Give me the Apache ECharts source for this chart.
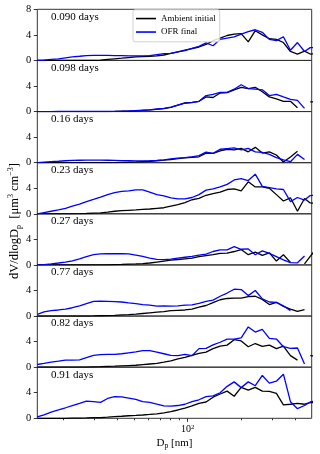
<!DOCTYPE html>
<html>
<head>
<meta charset="utf-8">
<script src="https://cdn.jsdelivr.net/npm/echarts@6/dist/echarts.min.js"></script>
<style>
html, body { margin: 0; padding: 0; background: #fff; }
#main { width: 320px; height: 454px; }
</style>
</head>
<body>
<div id="main"></div>
<script>
// particle mobility diameter bins, nm
const diameters = [14.3, 15.6, 17.1, 18.8, 20.6, 22.5, 24.7, 27.0, 29.6, 32.4,
	35.5, 38.9, 42.6, 46.6, 51.1, 55.9, 61.2, 67.1, 73.5, 80.4,
	88.1, 96.5, 105.7, 115.7, 126.8, 138.8, 152.1, 166.5, 182.4, 199.7,
	218.8, 239.6, 262.4, 287.4, 314.8, 344.7, 377.6, 413.5, 452.9, 487.6, 534];

const panelLabels = ['0.090 days', '0.098 days', '0.16 days', '0.23 days', '0.27 days', '0.77 days', '0.82 days', '0.91 days'];

// dV/dlogDp, um3 cm-3, one array per panel (ambient initial / OFR final)
const ambient1 = [0, 0, 0, 0, 0, 0, 0, 0, 0.02, 0.05,
	0.15, 0.25, 0.35, 0.45, 0.55, 0.6, 0.65, 0.7, 0.85, 1.1,
	1.35, 1.6, 1.85, 2.1, 2.5, 3.1, 3.5, 3.9, 4.1, 4.2,
	2.9, 4.65, 4.0, 3.4, 3.3, 2.8, 1.4, 1.0, 1.45, 1.0, 1.1];
const ofr1 = [0, 0.05, 0.15, 0.25, 0.4, 0.55, 0.65, 0.75, 0.8, 0.8,
	0.8, 0.75, 0.75, 0.7, 0.7, 0.7, 0.75, 0.9, 1.05, 1.1,
	1.35, 1.55, 1.9, 2.2, 2.75, 2.3, 3.3, 3.5, 3.7, 4.1,
	4.5, 4.8, 4.4, 3.3, 3.1, 3.7, 1.6, 2.8, 1.4, 2.0, 2.0];

const ambient2 = [0, 0, 0, 0, 0, 0, 0, 0, 0, 0,
	0, 0.02, 0.05, 0.08, 0.12, 0.18, 0.25, 0.35, 0.45, 0.65,
	1.0, 1.35, 1.45, 1.6, 2.3, 2.2, 2.9, 2.95, 3.4, 3.8,
	3.6, 3.8, 3.1, 2.3, 2.0, 1.6, 1.6, 0.6, null, 1.5, 1.5];
const ofr2 = [0, 0, 0, 0.01, 0.02, 0.02, 0.03, 0.03, 0.03, 0.03,
	0.03, 0.04, 0.06, 0.1, 0.15, 0.2, 0.25, 0.4, 0.5, 0.7,
	1.0, 1.3, 1.4, 1.6, 2.5, 2.7, 3.0, 3.0, 3.5, 4.2,
	3.6, 3.5, 3.4, 2.5, 2.7, 2.3, 1.9, 1.75, 0.5, null, null];

const ambient3 = [0, 0, 0, 0, 0, 0, 0, 0, 0, 0,
	0, 0.02, 0.05, 0.08, 0.12, 0.17, 0.22, 0.3, 0.4, 0.5,
	0.62, 0.75, 0.85, 0.92, 1.5, 1.45, 1.85, 2.1, 2.0, 2.25,
	1.7, 2.4, 1.5, 1.7, 1.2, 0.1, 0.9, 1.8, null, null, null];
const ofr3 = [0, 0.08, 0.15, 0.22, 0.3, 0.35, 0.38, 0.4, 0.4, 0.4,
	0.38, 0.35, 0.32, 0.3, 0.27, 0.27, 0.3, 0.35, 0.45, 0.6,
	0.72, 0.78, 0.9, 1.1, 1.65, 1.45, 2.1, 2.2, 2.3, 2.0,
	2.25, 1.7, 1.6, 1.3, 0.8, 0.45, 0.15, 1.3, 0.5, null, null];

const ambient4 = [0, 0, 0, 0, 0, 0, 0.02, 0.05, 0.1, 0.15,
	0.25, 0.4, 0.5, 0.55, 0.6, 0.68, 0.75, 0.85, 0.95, 1.2,
	1.45, 1.75, 2.2, 2.4, 2.9, 3.15, 3.4, 3.8, 3.9, 3.6,
	5.0, 4.2, 4.2, 4.0, 3.0, 2.0, 2.5, 0.4, 2.4, 1.7, 1.6];
const ofr4 = [0, 0.2, 0.4, 0.6, 0.85, 1.2, 1.5, 1.9, 2.25, 2.6,
	3.0, 3.3, 3.5, 3.6, 3.75, 3.75, 3.4, 3.0, 2.8, 2.5,
	2.35, 2.35, 2.55, 3.0, 3.7, 3.9, 4.2, 4.6, 5.3, 5.5,
	5.2, 6.2, 4.3, 4.1, 3.9, 3.8, 1.9, 2.55, 2.15, 2.85, 2.9];

const ambient5 = [0, 0, 0, 0, 0, 0, 0, 0, 0, 0,
	0.02, 0.05, 0.08, 0.12, 0.15, 0.2, 0.3, 0.45, 0.6, 0.75,
	0.85, 0.95, 1.05, 1.3, 1.45, 1.6, 1.8, 1.85, 2.1, 2.4,
	1.6, 2.0, 1.5, 1.9, 0.6, 1.6, 0.4, null, 0.15, 1.35, 2.7];
const ofr5 = [0, 0.05, 0.15, 0.3, 0.45, 0.65, 0.95, 1.3, 1.6, 1.72,
	1.75, 1.75, 1.75, 1.72, 1.55, 1.35, 1.05, 0.88, 0.82, 0.9,
	1.05, 1.2, 1.35, 1.55, 1.7, 2.1, 2.35, 2.35, 2.85, 2.45,
	2.5, 1.6, 2.2, 1.8, 1.3, 0.8, 0.35, 0.33, 1.4, null, null];

const ambient6 = [0, 0, 0, 0, 0, 0, 0, 0, 0.02, 0.05,
	0.08, 0.12, 0.17, 0.22, 0.3, 0.4, 0.5, 0.6, 0.7, 0.85,
	0.9, 0.95, 1.1, 1.4, 1.65, 2.1, 2.55, 2.75, 2.8, 2.8,
	3.05, 3.1, 2.6, 1.8, 2.15, 1.5, 1.1, 0.72, 1.0, null, null];
const ofr6 = [0.25, 0.65, 0.85, 0.95, 1.1, 1.3, 1.6, 1.95, 2.3, 2.35,
	2.3, 2.25, 2.2, 2.05, 1.95, 1.8, 1.7, 1.55, 1.6, 1.55,
	1.6, 1.7, 1.75, 2.0, 2.3, 2.5, 3.1, 3.6, 4.2, 4.15,
	3.2, 4.0, 2.7, 2.2, 2.15, 1.6, 0.85, null, null, null, null];

const ambient7 = [0, 0, 0, 0, 0, 0, 0, 0.02, 0.05, 0.08,
	0.12, 0.15, 0.2, 0.25, 0.3, 0.4, 0.5, 0.6, 0.8, 1.0,
	1.3, 1.55, 1.85, 2.15, 2.35, 2.9, 3.3, 3.45, 4.3, 4.1,
	3.2, 3.7, 3.25, 3.45, 2.9, 3.3, 1.8, 1.1, null, 1.8, 1.75];
const ofr7 = [0.42, 0.6, 0.8, 0.95, 1.1, 1.1, 1.15, 1.5, 1.85, 1.95,
	2.0, 2.0, 2.1, 2.25, 2.4, 2.6, 2.6, 2.35, 2.1, 1.85,
	1.8, 2.0, 1.8, 2.9, 2.95, 3.5, 3.9, 4.4, 4.4, 4.6,
	6.3, 5.5, 5.9, 4.5, 4.4, 3.2, 2.95, 3.0, 0.5, null, null];

const ambient8 = [0, 0, 0, 0, 0, 0.02, 0.04, 0.06, 0.1, 0.12,
	0.18, 0.25, 0.32, 0.4, 0.45, 0.52, 0.6, 0.7, 0.85, 1.05,
	1.3, 1.6, 1.95, 2.35, 2.55, 3.3, 3.8, 4.25, 3.45, 4.85,
	4.4, 4.85, 4.25, 4.2, 3.9, 2.1, 2.2, 2.35, 2.2, 2.45, 2.5];
const ofr8 = [0.22, 0.55, 0.95, 1.3, 1.65, 2.0, 2.35, 2.7, 2.6, 2.5,
	3.1, 3.4, 3.35, 3.15, 2.95, 2.6, 2.5, 2.2, 1.95, 1.9,
	2.0, 2.2, 2.6, 2.9, 3.4, 3.5, 4.0, 5.0, 5.7, 4.8,
	5.7, 5.1, 6.7, 5.5, 5.8, 6.9, 2.6, 1.5, 2.0, 2.55, 2.8];

const ambientSets = [ambient1, ambient2, ambient3, ambient4, ambient5, ambient6, ambient7, ambient8];
const ofrSets = [ofr1, ofr2, ofr3, ofr4, ofr5, ofr6, ofr7, ofr8];

// axis ticks
const xMinD = 14.3;
const xMaxD = 497;
const minorTickDiameters = [20, 30, 40, 50, 60, 70, 80, 90, 200, 300, 400];
const majorTickDiameters = [100];
const yMin = 0;
const yMax = 8;
const yInterval = 4;

const FONT = 'Liberation Serif';
const gridLeft = 37.3;
const gridRight = 8.3;
const gridTop = 9.3;
const panelH = 51.125;

const myChart = echarts.init(document.getElementById('main'));

const logs = diameters.map(d => Math.log10(d));
const grids = [], xAxes = [], yAxes = [], series = [], graphics = [];

for (let i = 0; i < 8; i++) {
	const top = gridTop + i * panelH;
	grids.push({
		left: gridLeft, right: gridRight, top: top, height: panelH,
		show: true, borderColor: '#333', borderWidth: 1, backgroundColor: 'transparent'
	});
	const last = i === 7;
	xAxes.push({
		type: 'value', gridIndex: i, position: 'bottom',
		min: Math.log10(xMinD), max: Math.log10(xMaxD),
		axisLine: { show: false },
		splitLine: { show: false },
		axisTick: last ? {
			show: true, length: 2, inside: false,
			customValues: minorTickDiameters.map(d => Math.log10(d)),
			lineStyle: { color: '#333', width: 1 }
		} : { show: false },
		axisLabel: { show: false },
		name: last ? 'D{sub|p} [nm]' : '',
		nameLocation: 'middle',
		nameGap: 18,
		nameTextStyle: {
			fontFamily: FONT, fontSize: 11, color: '#000',
			rich: { sub: { fontFamily: FONT, fontSize: 7.5, color: '#000', verticalAlign: 'bottom', padding: [6, 0, 0, 0] } }
		}
	});
	yAxes.push({
		type: 'value', gridIndex: i,
		min: yMin, max: yMax, interval: yInterval,
		axisLine: { show: false },
		splitLine: { show: false },
		axisTick: { show: true, length: 3.5, lineStyle: { color: '#333', width: 1 } },
		axisLabel: {
			showMaxLabel: i === 0,
			margin: 6,
			fontFamily: FONT, fontSize: 10.5, color: '#000'
		}
	});
	series.push({
		name: 'Ambient initial', type: 'line', xAxisIndex: i, yAxisIndex: i,
		data: logs.map((x, k) => [x, ambientSets[i][k]]),
		symbol: 'none', connectNulls: false, animation: false,
		lineStyle: { color: '#000000', width: 1.3 }, itemStyle: { color: '#000000' }
	});
	series.push({
		name: 'OFR final', type: 'line', xAxisIndex: i, yAxisIndex: i,
		data: logs.map((x, k) => [x, ofrSets[i][k]]),
		symbol: 'none', connectNulls: false, animation: false,
		lineStyle: { color: '#0000ff', width: 1.3 }, itemStyle: { color: '#0000ff' }
	});
	graphics.push({
		type: 'text', left: 51, top: top + 2,
		style: { text: panelLabels[i], fontFamily: FONT, fontSize: 11, fill: '#000' }
	});
}

// major tick and its label on the bottom panel
xAxes.push({
	type: 'value', gridIndex: 7, position: 'bottom',
	min: Math.log10(xMinD), max: Math.log10(xMaxD),
	axisLine: { show: false },
	splitLine: { show: false },
	axisTick: {
		show: true, length: 3.5,
		customValues: majorTickDiameters.map(d => Math.log10(d)),
		lineStyle: { color: '#333', width: 1 }
	},
	axisLabel: {
		show: true, margin: 5,
		customValues: majorTickDiameters.map(d => Math.log10(d)),
		formatter: v => '10{sup|' + Math.round(v) + '}',
		fontFamily: FONT, fontSize: 10, color: '#000', lineHeight: 13,
		rich: { sup: { fontFamily: FONT, fontSize: 7, color: '#000', verticalAlign: 'top', lineHeight: 13, padding: [0, 0, 5, 0] } }
	}
});

graphics.push({
	type: 'text', x: 15, y: 221, rotation: Math.PI / 2,
	style: {
		text: 'dV/dlogD{sub|p}  [μm{sup|3} cm{sup|−3}]',
		fontFamily: FONT, fontSize: 12.5, fill: '#000',
		align: 'center', verticalAlign: 'middle',
		rich: {
			sub: { fontFamily: FONT, fontSize: 8, fill: '#000', padding: [7, 0, 0, 0] },
			sup: { fontFamily: FONT, fontSize: 8, fill: '#000', padding: [0, 0, 8, 0] }
		}
	}
});

let option = {
	animation: false,
	grid: grids,
	xAxis: xAxes,
	yAxis: yAxes,
	legend: {
		data: ['Ambient initial', 'OFR final'],
		orient: 'vertical',
		left: 133, top: 9.8,
		padding: [3, 4, 4, 3],
		itemGap: 2,
		itemWidth: 20, itemHeight: 1.6,
		icon: 'rect',
		borderColor: '#d0d0d0', borderWidth: 1, borderRadius: 2,
		backgroundColor: 'rgba(255,255,255,0.85)',
		textStyle: { fontFamily: FONT, fontSize: 9, color: '#000', lineHeight: 11.5 }
	},
	graphic: graphics,
	series: series
};

myChart.setOption(option);
</script>
</body>
</html>
